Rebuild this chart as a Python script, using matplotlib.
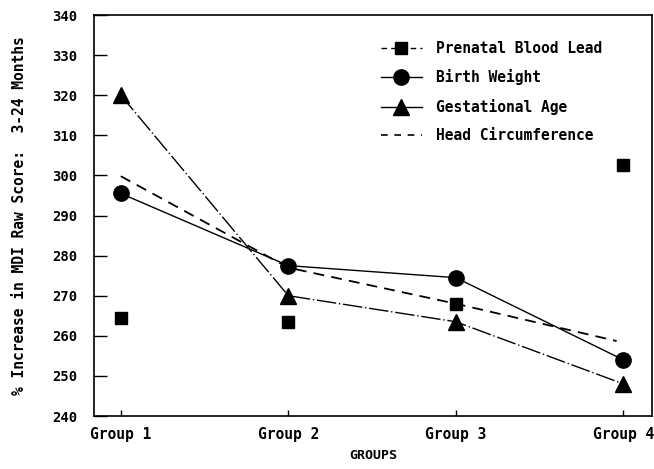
import matplotlib.pyplot as plt
from matplotlib.lines import Line2D

groups = ["Group 1", "Group 2", "Group 3", "Group 4"]
blood_lead = [264.5, 263.5, 268.0, 302.5]
birth_weight = [295.5, 277.5, 274.5, 254.0]
gest_age = [320.0, 270.0, 263.5, 248.0]
head_circ = [299.8, 277.0, 268.0, 258.7]

plt.rcParams['font.family'] = 'DejaVu Sans Mono'
plt.rcParams['font.weight'] = 'bold'
plt.rcParams['axes.labelweight'] = 'bold'

fig = plt.figure(figsize=(6.54, 4.69), dpi=100)
ax = fig.add_axes([0.1437, 0.113, 0.853, 0.855])

x = [1, 2, 3, 4]
ax.plot(x, blood_lead, ls='none', marker='s', ms=9, color='black')
ax.plot(x, birth_weight, ls='-', lw=1.0, marker='o', ms=11, color='black')
ax.plot(x, gest_age, ls=(0, (14, 2, 1, 2)), lw=1.0, marker='^', ms=12, color='black')
ax.plot([1, 2, 3, 3.96], head_circ, ls=(0, (6, 4)), lw=1.3, color='black')

handles = [
    Line2D([], [], ls=(0, (4, 3)), lw=1.0, marker='s', ms=9, color='black'),
    Line2D([], [], ls='-', lw=1.0, marker='o', ms=11, color='black'),
    Line2D([], [], ls='-', lw=1.0, marker='^', ms=12, color='black'),
    Line2D([], [], ls=(0, (4, 4)), lw=1.2, color='black'),
]
labels = ["Prenatal Blood Lead", "Birth Weight", "Gestational Age", "Head Circumference"]
ax.legend(handles, labels, loc='upper left', bbox_to_anchor=(0.514, 0.935),
          frameon=False, fontsize=10.5, handlelength=2.8, labelspacing=0.92,
          handletextpad=1.0, borderpad=0, borderaxespad=0)

ax.set_xlim(0.84, 4.17)
ax.set_ylim(240, 340)
ax.set_xticks(x)
ax.set_xticklabels(groups)
ax.set_yticks(range(240, 341, 10))
ax.tick_params(axis='y', direction='in', length=9, width=1.0, labelsize=10, pad=12)
ax.tick_params(axis='x', direction='in', length=4, width=1.0, labelsize=10.5, pad=8)
for s in ax.spines.values():
    s.set_linewidth(1.2)

ax.set_xlabel("GROUPS", fontsize=9.5, labelpad=5)
ax.set_ylabel("% Increase in MDI Raw Score:  3-24 Months", fontsize=10.5, labelpad=18)

fig.savefig("out.png", dpi=100)
